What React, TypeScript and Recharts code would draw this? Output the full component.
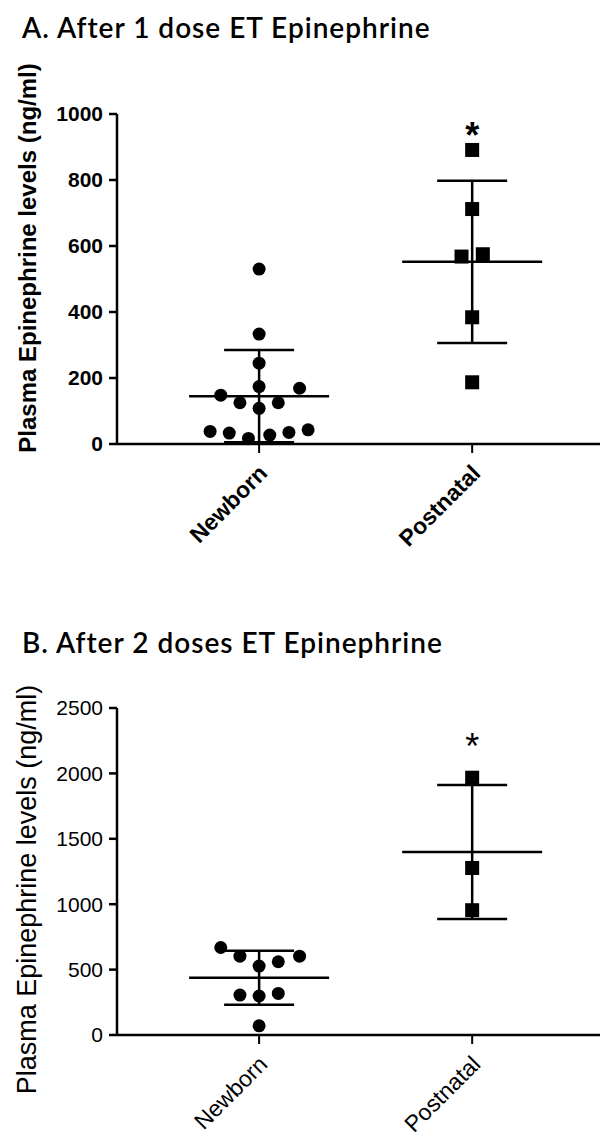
import React from 'react';
import { ScatterChart, Scatter, XAxis, YAxis, ErrorBar, Label } from 'recharts';

const groups = ['Newborn', 'Postnatal'];

// A. after 1 dose
const newbornAX = [1, 1, 1, 1, 1.19, 0.82, 0.91, 1.09, 1, 0.77, 0.86, 0.95, 1.05, 1.14, 1.23];
const newbornAY = [530, 333, 245, 174, 169, 148, 125, 125, 108, 38, 33, 17, 27, 35, 43];
const postnatalAX = [2, 2, 1.95, 2.05, 2, 2];
const postnatalAY = [891, 712, 568, 575, 384, 187];
const meanA = [145, 552];
const sdA = [140, 246];
const ticksA = [0, 200, 400, 600, 800, 1000];
const starA = 958;

// B. after 2 doses
const newbornBX = [0.82, 0.91, 1, 1.09, 1.19, 0.91, 1, 1.09, 1];
const newbornBY = [669, 603, 527, 560, 603, 305, 298, 318, 70];
const postnatalBX = [2, 2, 2];
const postnatalBY = [1967, 1277, 954];
const meanB = [438, 1399];
const sdB = [206, 512];
const ticksB = [0, 500, 1000, 1500, 2000, 2500];
const starB = 2260;

const zip = (xs: number[], ys: number[]) => xs.map((x, i) => ({ x, y: ys[i] }));

const Dot = (p: any) => <circle cx={p.cx} cy={p.cy} r={6.5} fill="#000" />;
const Square = (p: any) => <rect x={p.cx - 7} y={p.cy - 7} width={14} height={14} fill="#000" />;
const MeanLine = (p: any) => (
  <line x1={p.cx - 70} x2={p.cx + 70} y1={p.cy} y2={p.cy} stroke="#000" strokeWidth={2.5} />
);

type PanelProps = {
  title: string;
  top: number;
  height: number;
  marginTop: number;
  xHeight: number;
  bold: boolean;
  ticks: number[];
  newborn: { x: number; y: number }[];
  postnatal: { x: number; y: number }[];
  mean: number[];
  sd: number[];
  star: number;
  titleTop: number;
  labelShift: number;
  labelSize: number;
};

function Panel(props: PanelProps) {
  const { bold, ticks } = props;
  const weight = bold ? 'bold' : 'normal';
  const font = '"Liberation Sans", Arial, sans-serif';
  const meanData = props.mean.map((m, i) => ({ x: i + 1, y: m, sd: props.sd[i] }));
  const Star = (p: any) => (
    <text x={p.cx} y={p.cy + 20} textAnchor="middle" fontSize={36} fontWeight={weight} fontFamily={font} fill="#000">
      *
    </text>
  );
  const xTick = (p: any) => (
    <text
      x={p.x + 4}
      y={p.y + 14}
      transform={`rotate(-45 ${p.x + 4} ${p.y + 14})`}
      textAnchor="end"
      dominantBaseline="central"
      fontSize={23}
      fontWeight={weight}
      fontFamily={font}
      fill="#000"
    >
      {groups[p.payload.value - 1]}
    </text>
  );
  const yLabel = (p: any) => {
    const vb = p.viewBox;
    const cy = vb.y + vb.height / 2 + props.labelShift;
    return (
      <text
        x={27}
        y={cy}
        transform={`rotate(-90 27 ${cy})`}
        textAnchor="middle"
        dominantBaseline="central"
        fontSize={props.labelSize}
        fontWeight={weight}
        fontFamily={font}
        fill="#000"
      >
        Plasma Epinephrine levels (ng/ml)
      </text>
    );
  };
  return (
    <div style={{ position: 'absolute', left: 0, top: props.top, width: 605, height: props.height }}>
      <div
        style={{
          position: 'absolute',
          left: 22,
          top: props.titleTop,
          fontFamily: 'Lato, "Open Sans", sans-serif',
          fontSize: 28,
          letterSpacing: 1,
          fontWeight: 600,
          color: '#000',
          whiteSpace: 'nowrap',
        }}
      >
        {props.title}
      </div>
      <ScatterChart width={605} height={props.height} margin={{ top: props.marginTop, right: 5, bottom: 0, left: 0 }}>
        <XAxis
          type="number"
          dataKey="x"
          domain={[0.333, 2.6]}
          ticks={[1, 2]}
          allowDataOverflow
          tick={xTick}
          tickSize={9}
          height={props.xHeight}
          axisLine={{ stroke: '#000', strokeWidth: 2.5 }}
          tickLine={{ stroke: '#000', strokeWidth: 2 }}
        />
        <YAxis
          type="number"
          dataKey="y"
          domain={[ticks[0], ticks[ticks.length - 1]]}
          ticks={ticks}
          interval={0}
          width={117}
          tickSize={8}
          tickMargin={6}
          axisLine={{ stroke: '#000', strokeWidth: 2.5 }}
          tickLine={{ stroke: '#000', strokeWidth: 2.5 }}
          tick={{ fill: '#000', fontSize: 21, fontWeight: weight, fontFamily: font }}
        >
          <Label content={yLabel} />
        </YAxis>
        <Scatter data={meanData} shape={MeanLine} isAnimationActive={false}>
          <ErrorBar dataKey="sd" direction="y" width={35} stroke="#000" strokeWidth={2.5} />
        </Scatter>
        <Scatter data={props.newborn} shape={Dot} isAnimationActive={false} />
        <Scatter data={props.postnatal} shape={Square} isAnimationActive={false} />
        <Scatter data={[{ x: 2, y: props.star }]} shape={Star} isAnimationActive={false} />
      </ScatterChart>
    </div>
  );
}

export default function App() {
  return (
    <div style={{ position: 'absolute', left: 0, top: 0, width: 605, height: 1144, background: '#fff', overflow: 'hidden' }}>
      <Panel
        title="A. After 1 dose ET Epinephrine"
        top={0}
        height={580}
        marginTop={114}
        xHeight={136}
        bold
        ticks={ticksA}
        newborn={zip(newbornAX, newbornAY)}
        postnatal={zip(postnatalAX, postnatalAY)}
        mean={meanA}
        sd={sdA}
        star={starA}
        titleTop={10}
        labelShift={-21}
        labelSize={24}
      />
      <Panel
        title="B. After 2 doses ET Epinephrine"
        top={580}
        height={564}
        marginTop={128}
        xHeight={109}
        bold={false}
        ticks={ticksB}
        newborn={zip(newbornBX, newbornBY)}
        postnatal={zip(postnatalBX, postnatalBY)}
        mean={meanB}
        sd={sdB}
        star={starB}
        titleTop={45}
        labelShift={18}
        labelSize={27}
      />
    </div>
  );
}
